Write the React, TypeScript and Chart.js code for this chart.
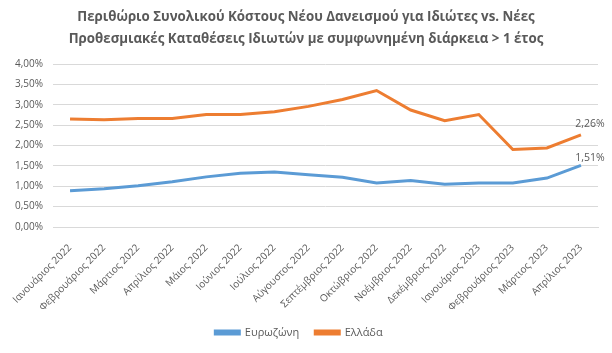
import React, { useEffect, useRef } from "react";
import { Chart, registerables } from "chart.js";

Chart.register(...registerables);

const titleLines = [
  "Περιθώριο Συνολικού Κόστους Νέου Δανεισμού για Ιδιώτες vs. Νέες",
  "Προθεσμιακές Καταθέσεις Ιδιωτών με συμφωνημένη διάρκεια > 1 έτος",
];

const categories = [
  "Ιανουάριος 2022",
  "Φεβρουάριος 2022",
  "Μάρτιος 2022",
  "Απρίλιος 2022",
  "Μάιος 2022",
  "Ιούνιος 2022",
  "Ιούλιος 2022",
  "Αύγουστος 2022",
  "Σεπτέμβριος 2022",
  "Οκτώβριος 2022",
  "Νοέμβριος 2022",
  "Δεκέμβριος 2022",
  "Ιανουάριος 2023",
  "Φεβρουάριος 2023",
  "Μάρτιος 2023",
  "Απρίλιος 2023",
];

const eurozone = [0.89, 0.94, 1.01, 1.11, 1.23, 1.32, 1.35, 1.28, 1.22, 1.08, 1.14, 1.05, 1.08, 1.08, 1.2, 1.51];
const greece = [2.65, 2.63, 2.66, 2.66, 2.76, 2.76, 2.83, 2.96, 3.13, 3.35, 2.87, 2.61, 2.76, 1.9, 1.94, 2.26];

const yTicks = [0, 0.5, 1, 1.5, 2, 2.5, 3, 3.5, 4];

const TEXT = "#595959";
const FONT = "'Open Sans', 'Noto Sans', sans-serif";

const fmt = (v: number) => v.toFixed(2).replace(".", ",") + "%";

const titlePlugin = {
  id: "customTitle",
  afterDraw(chart: any) {
    const ctx = chart.ctx;
    ctx.save();
    ctx.fillStyle = TEXT;
    ctx.font = `bold 13.3px ${FONT}`;
    ctx.textAlign = "center";
    ctx.textBaseline = "middle";
    titleLines.forEach((t, i) => ctx.fillText(t, chart.width / 2, 17.5 + i * 22));
    ctx.restore();
  },
};

const lastLabelPlugin = {
  id: "lastLabel",
  afterDatasetsDraw(chart: any) {
    const ctx = chart.ctx;
    ctx.save();
    ctx.fillStyle = TEXT;
    ctx.font = `10.5px ${FONT}`;
    ctx.textAlign = "center";
    ctx.textBaseline = "middle";
    chart.data.datasets.forEach((ds: any, i: number) => {
      const meta = chart.getDatasetMeta(i);
      const n = ds.data.length - 1;
      const pt = meta.data[n];
      ctx.fillText(fmt(ds.data[n]), pt.x + 9, pt.y - ds.labelOffset);
    });
    ctx.restore();
  },
};

export default function App() {
  const ref = useRef<HTMLCanvasElement>(null);
  useEffect(() => {
    const chart = new Chart(ref.current!, {
      type: "line",
      data: {
        labels: categories,
        datasets: [
          {
            label: "Ευρωζώνη",
            data: eurozone,
            borderColor: "#5B9BD5",
            backgroundColor: "#5B9BD5",
            borderWidth: 3,
            pointRadius: 0,
            tension: 0,
            labelOffset: 7,
          } as any,
          {
            label: "Ελλάδα",
            data: greece,
            borderColor: "#ED7D31",
            backgroundColor: "#ED7D31",
            borderWidth: 3,
            pointRadius: 0,
            tension: 0,
            labelOffset: 11,
          } as any,
        ],
      },
      options: {
        animation: false,
        responsive: false,
        layout: { padding: { top: 64, right: 14, left: 0, bottom: 5 } },
        plugins: {
          title: { display: false },
          tooltip: { enabled: false },
          legend: {
            position: "bottom",
            labels: {
              boxWidth: 24,
              boxHeight: 3,
              color: TEXT,
              font: { family: FONT, size: 11 },
              padding: 16,
            },
          },
        },
        scales: {
          x: {
            offset: true,
            grid: { display: false },
            border: { color: "#D9D9D9" },
            ticks: {
              color: TEXT,
              font: { family: FONT, size: 10 },
              minRotation: 45,
              maxRotation: 45,
              autoSkip: false,
              padding: 7,
            },
            afterFit: (s: any) => {
              s.height = 84;
            },
          },
          y: {
            min: 0,
            max: 4,
            afterBuildTicks: (s: any) => {
              s.ticks = yTicks.map((v) => ({ value: v }));
            },
            grid: { color: "#D9D9D9", drawTicks: false },
            border: { display: false },
            ticks: {
              color: TEXT,
              font: { family: FONT, size: 10 },
              padding: 10,
              callback: (v: any) => fmt(Number(v)),
            },
            afterFit: (s: any) => {
              s.width = 53;
            },
          },
        },
      },
      plugins: [titlePlugin, lastLabelPlugin],
    });
    return () => chart.destroy();
  }, []);
  return (
    <div style={{ position: "fixed", left: 0, top: 0, width: 612, height: 353, background: "#fff" }}>
      <canvas ref={ref} width={612} height={353} />
    </div>
  );
}
